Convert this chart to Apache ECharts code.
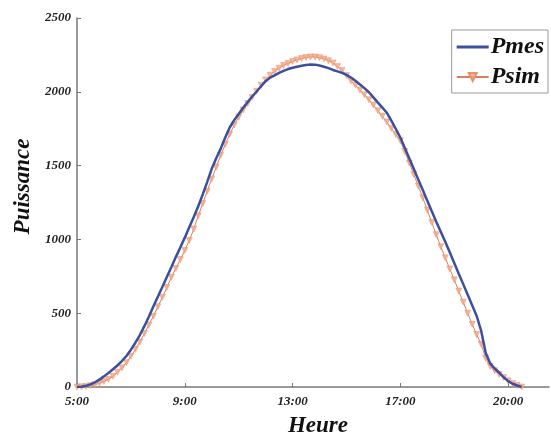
<!DOCTYPE html>
<html>
<head>
<meta charset="utf-8">
<script src="https://cdn.jsdelivr.net/npm/echarts@6/dist/echarts.min.js"></script>
<style>
  html, body { margin: 0; padding: 0; background: #fff; }
  #chart { width: 551px; height: 437px; }
</style>
</head>
<body>
<div id="chart"></div>
<script>
// minutes depuis 5:00 (pas de 10 min)
const minutes = [
  0, 10, 20, 30, 40, 50, 60, 70, 80, 90,
  100, 110, 120, 130, 140, 150, 160, 170, 180, 190,
  200, 210, 220, 230, 240, 250, 260, 270, 280, 290,
  300, 310, 320, 330, 340, 350, 360, 370, 380, 390,
  400, 410, 420, 430, 440, 450, 460, 470, 480, 490,
  500, 510, 520, 530, 540, 550, 560, 570, 580, 590,
  600, 610, 620, 630, 640, 650, 660, 670, 680, 690,
  700, 710, 720, 730, 740, 750, 760, 770, 780, 790,
  800, 810, 820, 830, 840, 850, 860, 870, 880, 890,
  900, 910, 920, 930, 940, 950, 960, 970, 980, 990
]

// puissance mesuree
const pmes = [
  0, 2, 8, 18, 32, 50, 72, 95, 120, 146,
  176, 210, 253, 300, 352, 412, 476, 545, 612, 678,
  745, 812, 880, 945, 1012, 1082, 1152, 1225, 1305, 1390,
  1478, 1550, 1615, 1690, 1758, 1808, 1850, 1892, 1930, 1968,
  2002, 2038, 2072, 2096, 2112, 2128, 2142, 2154, 2163, 2170,
  2176, 2181, 2185, 2184, 2178, 2170, 2160, 2148, 2138, 2128,
  2115, 2097, 2075, 2050, 2025, 1997, 1962, 1927, 1893, 1858,
  1805, 1748, 1690, 1619, 1548, 1477, 1405, 1334, 1262, 1190,
  1120, 1052, 984, 913, 840, 768, 697, 625, 553, 481,
  380, 232, 160, 125, 98, 66, 40, 22, 10, 0
]

// puissance simulee
const psim = [
  0, 1, 4, 9, 16, 25, 37, 52, 72, 100,
  130, 165, 208, 255, 305, 362, 420, 480, 544, 608,
  674, 743, 803, 863, 925, 992, 1070, 1160, 1244, 1327,
  1410, 1490, 1570, 1643, 1712, 1775, 1828, 1876, 1920, 1962,
  2004, 2044, 2080, 2112, 2138, 2160, 2178, 2192, 2205, 2216,
  2225, 2232, 2236, 2236, 2231, 2222, 2210, 2195, 2172, 2145,
  2110, 2073, 2045, 2012, 1980, 1946, 1910, 1872, 1834, 1795,
  1752, 1710, 1668, 1595, 1518, 1440, 1362, 1282, 1198, 1115,
  1032, 950, 875, 800, 726, 650, 575, 500, 425, 355,
  290, 195, 140, 110, 85, 64, 42, 24, 10, 0
]

const xTickLabels = ['5:00', '9:00', '13:00', '17:00', '20:00']

const font = 'Liberation Serif'

let myChart = echarts.init(document.getElementById('chart'))
let option = {
  animation: false,
  backgroundColor: '#fff',
  legend: {
    orient: 'vertical',
    right: 3,
    top: 30,
    data: [
      { name: 'Pmes', icon: 'path://M0,0H32V3H0Z' },
      { name: 'Psim' }
    ],
    borderColor: '#999',
    borderWidth: 1,
    padding: [5, 4, 4, 4],
    itemGap: 6,
    itemWidth: 32,
    itemHeight: 10,
    textStyle: {
      fontFamily: font,
      fontSize: 24,
      fontWeight: 'bold',
      fontStyle: 'italic',
      color: '#111',
      padding: [0, 0, 0, -3]
    }
  },
  grid: {
    left: 77,
    right: 2,
    top: 18,
    bottom: 50,
    outerBoundsMode: 'none'
  },
  xAxis: {
    type: 'value',
    min: 0,
    max: 1051,
    interval: 240,
    name: 'Heure',
    nameLocation: 'middle',
    nameGap: 28,
    nameTextStyle: {
      fontFamily: font,
      fontSize: 23,
      fontWeight: 'bold',
      fontStyle: 'italic',
      color: '#111',
      padding: [0, 0, 0, 10]
    },
    splitLine: { show: false },
    axisLine: { lineStyle: { color: '#777', width: 1.5 } },
    axisTick: { inside: true, length: 4, lineStyle: { color: '#777' } },
    axisLabel: {
      margin: 8,
      fontFamily: font,
      fontSize: 13,
      fontWeight: 'bold',
      fontStyle: 'italic',
      color: '#222',
      showMaxLabel: false,
      formatter: function (v) {
        return xTickLabels[v / 240] || ''
      }
    }
  },
  yAxis: {
    type: 'value',
    min: 0,
    max: 2500,
    interval: 500,
    name: 'Puissance',
    nameLocation: 'middle',
    nameGap: 39,
    nameTextStyle: {
      fontFamily: font,
      fontSize: 23,
      fontWeight: 'bold',
      fontStyle: 'italic',
      color: '#111',
      padding: [0, 0, 0, 32]
    },
    splitLine: { show: false },
    axisLine: { show: true, lineStyle: { color: '#777', width: 1.5 } },
    axisTick: { show: true, inside: true, length: 4, lineStyle: { color: '#777' } },
    axisLabel: {
      margin: 6,
      fontFamily: font,
      fontSize: 13,
      fontWeight: 'bold',
      fontStyle: 'italic',
      color: '#222',
      formatter: function (v) {
        return String(v)
      }
    }
  },
  series: [
    {
      name: 'Pmes',
      type: 'line',
      z: 3,
      data: minutes.map((m, i) => [m, pmes[i]]),
      showSymbol: false,
      symbol: 'none',
      color: '#3b4fa0',
      lineStyle: { color: '#3b4fa0', width: 2.5 }
    },
    {
      name: 'Psim',
      type: 'line',
      z: 2,
      data: minutes.map((m, i) => [m, psim[i]]),
      symbol: 'triangle',
      symbolRotate: 180,
      symbolSize: 6,
      showAllSymbol: true,
      color: '#f0a07c',
      itemStyle: { color: 'rgba(244,166,130,0.8)', borderColor: '#e89070', borderWidth: 0.5 },
      lineStyle: { color: '#d8805c', width: 1 }
    }
  ]
}
myChart.setOption(option)
</script>
</body>
</html>
